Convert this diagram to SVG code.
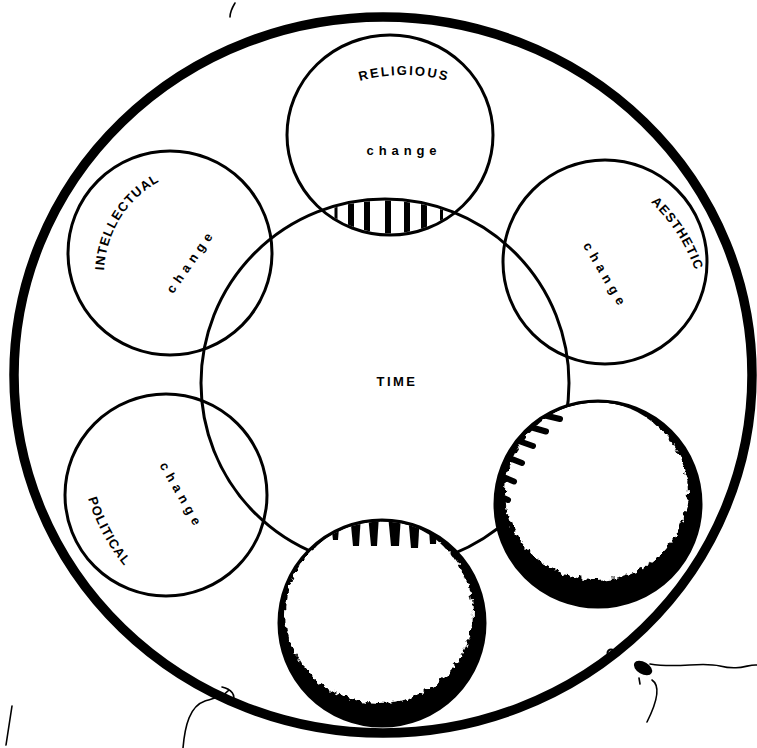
<svg xmlns="http://www.w3.org/2000/svg" width="757" height="748" viewBox="0 0 757 748">
<style>
.ring{fill:none;stroke:#000;stroke-width:3}
.lbl{font-family:"Liberation Sans",Arial,sans-serif;font-weight:bold;font-size:13px;fill:#000}
.chg{letter-spacing:4.9px}
.bar{fill:#000}
.scr{fill:none;stroke:#000;stroke-width:1.6;stroke-linecap:round}
</style>
<defs>
<clipPath id="clipRel"><ellipse cx="390" cy="135" rx="101.5" ry="98.5"/></clipPath>
<clipPath id="clipTime"><circle cx="385" cy="383" r="182.5"/></clipPath>
<clipPath id="clipBot"><circle cx="382" cy="623" r="101.5"/></clipPath>
<clipPath id="clipBR"><circle cx="598" cy="504" r="101.5"/></clipPath>
<filter id="rough" x="-10%" y="-10%" width="120%" height="120%">
<feTurbulence type="fractalNoise" baseFrequency="0.18" numOctaves="2" seed="3" result="n"/>
<feDisplacementMap in="SourceGraphic" in2="n" scale="9" xChannelSelector="R" yChannelSelector="G"/>
</filter>
<path id="pRel" d="M 330 92.8 A 163 163 0 0 1 478 92.8"/>
<path id="pInt" d="M 116.5 325.2 A 107 107 0 0 1 214.7 168.1"/>
<path id="pAes" d="M 582.6 162.6 A 173 173 0 0 1 703.7 349.1"/>
<path id="pPol" d="M 79.1 433.6 A 200 200 0 0 0 174.2 609.6"/>
</defs>

<g id="frame">
<ellipse cx="383" cy="375" rx="369" ry="358" fill="none" stroke="#000" stroke-width="9.5"/>
</g>

<g id="time">
<circle class="ring" cx="385" cy="383" r="184"/>
<text class="lbl" x="397" y="386" font-size="13" letter-spacing="2.5" text-anchor="middle">TIME</text>
</g>

<g id="religious">
<ellipse class="ring" cx="390" cy="135" rx="103" ry="100"/>
<text class="lbl" letter-spacing="2"><textPath href="#pRel" startOffset="50%" text-anchor="middle">RELIGIOUS</textPath></text>
<text class="lbl chg" x="404" y="155" text-anchor="middle">change</text>
</g>

<g id="intellectual">
<circle class="ring" cx="170" cy="253" r="102"/>
<text class="lbl" letter-spacing="1"><textPath href="#pInt" startOffset="50%" text-anchor="middle">INTELLECTUAL</textPath></text>
<text class="lbl chg" transform="translate(194.4,263.5) rotate(-55)" x="0" y="0" text-anchor="middle">change</text>
</g>

<g id="aesthetic">
<circle class="ring" cx="605" cy="262" r="102"/>
<text class="lbl" letter-spacing="1"><textPath href="#pAes" startOffset="50%" text-anchor="middle">AESTHETIC</textPath></text>
<text class="lbl chg" transform="translate(601.7,277.8) rotate(59.7)" x="0" y="0" text-anchor="middle">change</text>
</g>

<g id="political">
<circle class="ring" cx="166" cy="495" r="101"/>
<text class="lbl" letter-spacing="1"><textPath href="#pPol" startOffset="50%" text-anchor="middle">POLITICAL</textPath></text>
<text class="lbl chg" transform="translate(177.8,497.9) rotate(60.4)" x="0" y="0" text-anchor="middle">change</text>
</g>

<g id="bottom-right">
<circle cx="598" cy="504" r="103" fill="#000"/>
<g clip-path="url(#clipBR)">
<ellipse cx="596.5" cy="492.5" rx="91.5" ry="87.5" fill="#fff" filter="url(#rough)"/>
<ellipse cx="596.5" cy="488" rx="87" ry="86" fill="#fff"/>
</g>
<circle class="ring" cx="598" cy="504" r="103"/>
</g>

<g id="bottom">
<circle cx="382" cy="623" r="103" fill="#000"/>
<g clip-path="url(#clipBot)">
<ellipse cx="379" cy="613" rx="94" ry="90" fill="#fff" filter="url(#rough)"/>
<ellipse cx="380" cy="608" rx="89" ry="88" fill="#fff"/>
</g>
<circle class="ring" cx="382" cy="623" r="103"/>
</g>

<g id="connectors">
<g clip-path="url(#clipRel)"><g clip-path="url(#clipTime)">
<rect class="bar" x="334.5" y="190" width="3" height="60"/>
<rect class="bar" x="348" y="190" width="6" height="60"/>
<rect class="bar" x="364" y="190" width="6" height="60"/>
<rect class="bar" x="385" y="190" width="6" height="60"/>
<rect class="bar" x="404" y="190" width="6" height="60"/>
<rect class="bar" x="421" y="190" width="6" height="60"/>
<rect class="bar" x="440" y="190" width="3" height="60"/>
</g></g>
<g clip-path="url(#clipBot)">
<polygon class="bar" points="330,515 340,515 338,540 333,540"/>
<polygon class="bar" points="350,515 361,515 359,546 353,546"/>
<polygon class="bar" points="368,515 379,515 377,546 371,546"/>
<polygon class="bar" points="388,515 401,515 399,546 391,546"/>
<polygon class="bar" points="408,515 420,515 418,548 411,548"/>
<polygon class="bar" points="428,515 438,515 436,544 430,544"/>
</g>
<g clip-path="url(#clipBR)" stroke="#000" stroke-width="6" stroke-linecap="round">
<line x1="543" y1="415" x2="560" y2="419"/>
<line x1="528.5" y1="426.5" x2="546" y2="431.5"/>
<line x1="516" y1="440" x2="533" y2="446"/>
<line x1="505.5" y1="456.5" x2="522" y2="463"/>
<line x1="498.5" y1="475" x2="514" y2="481.5"/>
<line x1="495" y1="494" x2="508" y2="500"/>
</g>
</g>

<g id="marks">
<circle cx="611" cy="653" r="3.5" fill="none" stroke="#000" stroke-width="2"/>
<ellipse cx="643" cy="668" rx="10" ry="6" transform="rotate(30 643 668)" fill="#000"/>
<path class="scr" d="M650,664 C680,669 700,661 720,666 S748,664 757,665"/>
<path class="scr" d="M652,680 C661,686 657,702 647,722"/>
<path class="scr" d="M639,678 L640,684"/>
<path class="scr" d="M183,748 C185,725 190,706 205,701 C215,698 224,696 229,690 M222,687 C231,689 237,695 232,703"/>
<path class="scr" d="M235,3 C232,8 230,12 230,17"/>
<path class="scr" d="M12,706 L6,745"/>
</g>
</svg>
